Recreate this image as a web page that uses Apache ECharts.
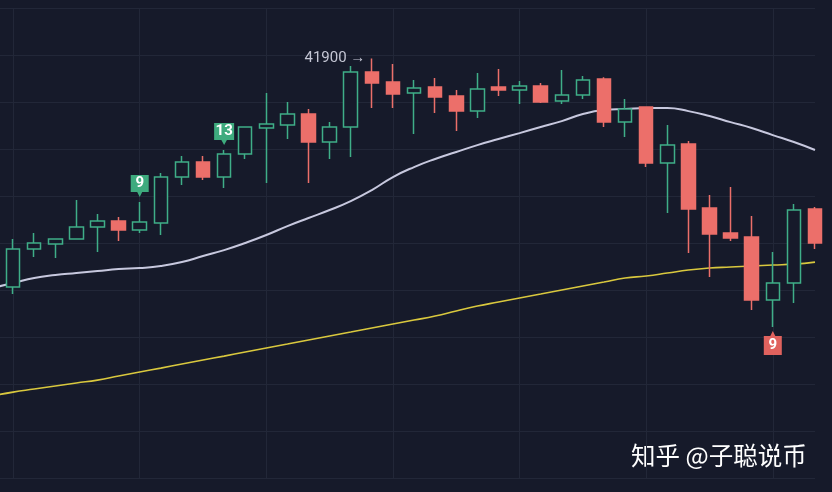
<!DOCTYPE html>
<html>
<head>
<meta charset="utf-8">
<script src="https://cdn.jsdelivr.net/npm/echarts@6/dist/echarts.min.js"></script>
<style>
  html, body { margin: 0; padding: 0; background: #161a2a; }
  #chart { width: 832px; height: 492px; }
</style>
</head>
<body>
<div id="chart"></div>
<script>
// 第一个类目只给均线用（从画布左边缘开始），K线从第二个类目开始
const categories = Array.from({ length: 40 }, (_, i) => 'T' + i)

// K线: 开 / 收 / 低 / 高
const opens  = [40320, 40583, 40618, 40652, 40735, 40777, 40715, 40763, 41081, 41185, 41081, 41240, 41420, 41441, 41517, 41323, 41427, 41807, 41738, 41662, 41703, 41641, 41537, 41703, 41683, 41710, 41607, 41648, 41759, 41461, 41565, 41178, 41309, 40867, 40694, 40666, 40230, 40348, 40860]
const closes = [40583, 40625, 40652, 40735, 40777, 40715, 40770, 41081, 41185, 41081, 41240, 41427, 41448, 41517, 41323, 41427, 41807, 41731, 41655, 41697, 41634, 41537, 41690, 41683, 41710, 41600, 41648, 41752, 41461, 41551, 41178, 41302, 40860, 40687, 40659, 40230, 40348, 40853, 40625]
const lows   = [40272, 40528, 40521, 40650, 40562, 40639, 40694, 40680, 41026, 41060, 41005, 41205, 41040, 41344, 41040, 41206, 41219, 41558, 41558, 41378, 41524, 41399, 41489, 41641, 41586, 41593, 41586, 41620, 41427, 41358, 41150, 40832, 40555, 40390, 40639, 40161, 40044, 40210, 40583]
const highs  = [40652, 40694, 40655, 40922, 40825, 40804, 40908, 41109, 41226, 41226, 41268, 41430, 41662, 41600, 41551, 41461, 41849, 41900, 41862, 41752, 41766, 41683, 41800, 41828, 41745, 41731, 41821, 41780, 41772, 41620, 41570, 41441, 41330, 40957, 41012, 40811, 40562, 40895, 40874]

// 均线
const maSlow = [40314, 40348, 40383, 40403, 40417, 40431, 40445, 40452, 40466, 40493, 40535, 40576, 40625, 40680, 40742, 40798, 40853, 40915, 40991, 41081, 41150, 41206, 41254, 41302, 41344, 41385, 41427, 41468, 41517, 41544, 41551, 41558, 41558, 41537, 41503, 41461, 41420, 41371, 41323, 41268]
const maLong = [39567, 39594, 39615, 39636, 39657, 39677, 39705, 39733, 39760, 39788, 39816, 39843, 39871, 39899, 39926, 39954, 39982, 40009, 40037, 40065, 40092, 40120, 40155, 40189, 40217, 40245, 40272, 40300, 40328, 40355, 40383, 40397, 40417, 40438, 40452, 40459, 40466, 40473, 40479, 40493]

// 九转信号: K线序号 / 文字 / 方向
const signalIdx  = [6, 10, 36]
const signalText = ['9', '13', '9']
const signalSide = ['up', 'up', 'down']

const UP = '#3fae88'
const DOWN = '#ec6f6a'
const BG = '#161a2a'

const kData = ['-'].concat(opens.map((o, i) => [o, closes[i], lows[i], highs[i]]))

const signalPoints = signalIdx.map((k, i) => {
  const up = signalSide[i] === 'up'
  const w = signalText[i].length > 1 ? 20 : 18
  return {
    coord: [categories[k + 1], up ? highs[k] : lows[k]],
    symbol: up
      ? 'path://M0,0L18,0L18,17L11.5,17L9,22L6.5,17L0,17Z'
      : 'path://M0,5L6.5,5L9,0L11.5,5L18,5L18,24L0,24Z',
    symbolSize: up ? [w, 22] : [w, 24],
    symbolOffset: up ? [0, -16] : [0, 16],
    symbolKeepAspect: false,
    itemStyle: { color: up ? '#3eab7e' : '#e0625e' },
    label: {
      show: true, position: 'inside', formatter: signalText[i],
      offset: [0, up ? -2.5 : 2.5],
      color: '#ffffff', fontSize: 15, fontWeight: 'bold', fontFamily: 'Roboto'
    }
  }
})

const chart = echarts.init(document.getElementById('chart'))
chart.setOption({
  backgroundColor: BG,
  animation: false,
  grid: { left: -8, right: 17, top: 8, height: 470, outerBoundsMode: 'none', containLabel: false },
  xAxis: {
    type: 'category',
    data: categories,
    boundaryGap: false,
    axisLine: { show: false },
    axisTick: { show: false },
    axisLabel: { show: false },
    splitLine: {
      show: true,
      interval: (idx) => idx % 6 === 1,
      lineStyle: { color: '#222738', width: 1 }
    }
  },
  yAxis: {
    type: 'value',
    min: 39000, max: 42250, interval: 325,
    axisLine: { show: false },
    axisTick: { show: false },
    axisLabel: { show: false },
    splitLine: { show: true, lineStyle: { color: '#222738', width: 1 } }
  },
  series: [
    {
      type: 'line', data: maSlow, showSymbol: false, smooth: true,
      lineStyle: { color: '#c7c8de', width: 2 }, z: 1
    },
    {
      type: 'line', data: maLong, showSymbol: false, smooth: true,
      lineStyle: { color: '#d9c83e', width: 1.6 }, z: 1
    },
    {
      type: 'candlestick',
      data: kData,
      barWidth: 14,
      clip: false,
      z: 3,
      itemStyle: {
        color: BG, color0: DOWN,
        borderColor: UP, borderColor0: DOWN,
        borderWidth: 1.5
      },
      markPoint: {
        z: 5,
        data: signalPoints.concat([{
          type: 'max', valueDim: 'highest',
          symbol: 'circle', symbolSize: 1,
          itemStyle: { color: 'rgba(0,0,0,0)' },
          label: {
            show: true, position: 'left', distance: 6,
            formatter: (p) => p.value + ' →',
            color: '#c4c6d4', fontSize: 15, fontFamily: 'Roboto'
          }
        }])
      }
    }
  ],
  graphic: [{
    type: 'text', left: 631, top: 443,
    style: {
      text: '知乎 @子聪说币', fill: '#ffffff',
      font: '24.5px "Noto Sans CJK SC"'
    }
  }]
})
</script>
</body>
</html>
